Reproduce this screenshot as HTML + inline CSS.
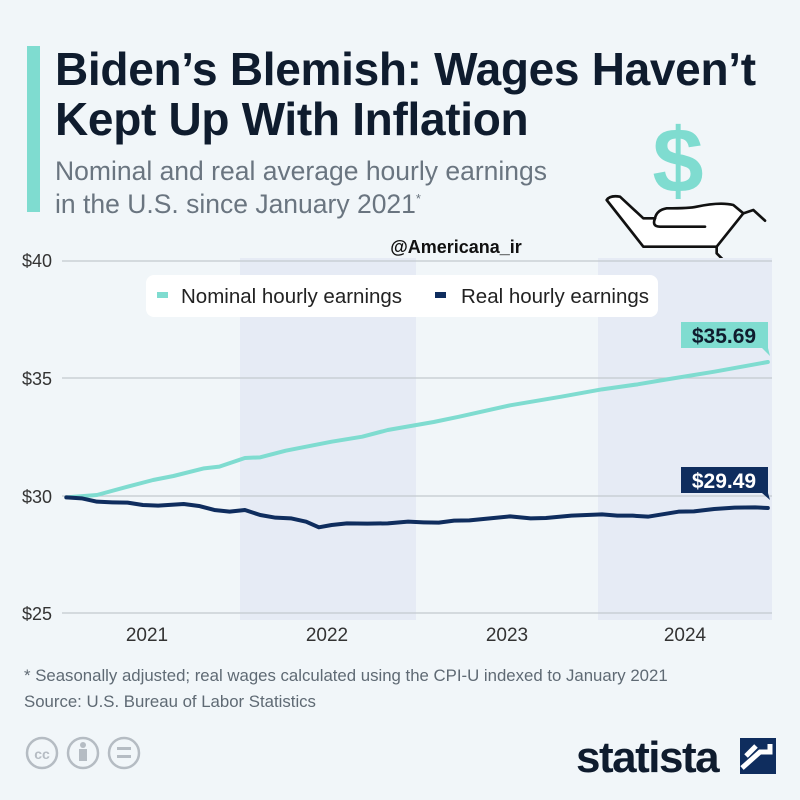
<!DOCTYPE html>
<html><head><meta charset="utf-8"><style>
body{margin:0;width:800px;height:800px;background:#f1f6f9;font-family:"Liberation Sans",sans-serif;position:relative;overflow:hidden}
.t{position:absolute;left:55px;font-weight:bold;font-size:46px;color:#0f1c2e;letter-spacing:-0.3px;line-height:50px}
.s{position:absolute;left:55px;font-size:26.5px;color:#6a7580;line-height:28px}
.f{position:absolute;left:24px;font-size:16.8px;color:#5f6a74}
</style></head><body>
<div style="position:absolute;left:27px;top:46px;width:13px;height:166px;background:#7fdcd0"></div>
<div class="t" style="top:44px">Biden’s Blemish: Wages Haven’t<br>Kept Up With Inflation</div>
<div class="s" style="top:157px">Nominal and real average hourly earnings<br>in the U.S. since January 2021<sup style="font-size:13px">*</sup></div>
<svg width="800" height="800" style="position:absolute;left:0;top:0">
<text x="678" y="192" font-size="92" font-weight="bold" fill="#7fdcd0" text-anchor="middle" font-family="Liberation Sans">$</text>
<g transform="translate(580,100) scale(0.33333)" fill="#fff" stroke="#111" stroke-width="8" stroke-linejoin="round" stroke-linecap="round">
<path d="M80,300 Q90,285 120,290 L190,355 L225,355 Q230,330 260,325 Q330,325 350,320 Q420,305 460,315 L490,340 L410,440 L190,440 Z"/>
<path d="M225,355 Q215,380 240,380 L375,380 M490,340 L520,330 L555,362 M410,440 L410,460 L440,490" fill="none"/>
</g>
<rect x="240" y="258" width="176" height="362" fill="#e6ebf5"/>
<rect x="598" y="258" width="174" height="362" fill="#e6ebf5"/>
<g stroke="#c4c9cf" stroke-width="1.2"><line x1="62" y1="261" x2="772" y2="261"/><line x1="62" y1="378" x2="772" y2="378"/><line x1="62" y1="496" x2="772" y2="496"/><line x1="62" y1="613" x2="772" y2="613"/></g>
<g font-size="18" fill="#333" font-family="Liberation Sans"><text x="22" y="267">$40</text><text x="22" y="385">$35</text><text x="22" y="503">$30</text><text x="22" y="620">$25</text>
<text x="147" y="641" text-anchor="middle" font-size="19">2021</text><text x="327" y="641" text-anchor="middle" font-size="19">2022</text><text x="507" y="641" text-anchor="middle" font-size="19">2023</text><text x="685" y="641" text-anchor="middle" font-size="19">2024</text></g>
<text x="456" y="253" font-size="18" font-weight="bold" text-anchor="middle" fill="#111" font-family="Liberation Sans">@Americana_ir</text>
<rect x="146" y="275" width="512" height="42" rx="8" fill="#fff"/>
<rect x="157" y="292" width="11" height="6" fill="#7fdcd0"/>
<rect x="435" y="292" width="11" height="6" fill="#0f2d5e"/>
<g font-size="20.5" fill="#222" font-family="Liberation Sans"><text x="181" y="303">Nominal hourly earnings</text><text x="461" y="303">Real hourly earnings</text></g>
<g transform="translate(0,250) scale(0.5102,0.33333)" fill="none" stroke-linejoin="round" stroke-linecap="round">
<polyline vector-effect="non-scaling-stroke" stroke-width="4" stroke="#7fdcd0" points="130,742 190,735 250,710 300,690 340,678 400,655 430,650 480,624 510,622 560,602 650,575 710,560 760,540 850,516 900,500 1000,466 1100,440 1180,418 1250,403 1300,390 1400,365 1505,336"/>
<polyline vector-effect="non-scaling-stroke" stroke-width="4" stroke="#0f2d5e" points="130,742 160,745 190,755 220,757 250,758 280,765 310,767 360,762 390,768 420,780 450,785 480,780 510,795 540,803 570,805 600,815 625,832 650,825 680,820 720,821 760,820 800,815 830,817 860,818 890,812 920,811 960,805 1000,799 1040,805 1070,804 1120,797 1180,793 1210,797 1240,797 1270,800 1330,785 1360,784 1400,777 1440,773 1480,772 1505,774"/>
</g>
<path d="M681 322 H768 V348 L770 356 L762 348 H681 Z" fill="#7fdcd0"/>
<text x="724" y="343" font-size="21" font-weight="bold" text-anchor="middle" fill="#0f1c2e" font-family="Liberation Sans">$35.69</text>
<path d="M681 467 H768 V493 L770 500 L762 493 H681 Z" fill="#0f2d5e"/>
<text x="724" y="488" font-size="21" font-weight="bold" text-anchor="middle" fill="#fff" font-family="Liberation Sans">$29.49</text>
<g fill="none" stroke="#b5bcc3" stroke-width="2.5"><circle cx="42" cy="753" r="15"/><circle cx="83" cy="753" r="15"/><circle cx="124" cy="753" r="15"/></g>
<text x="42" y="759" font-size="14" font-weight="bold" fill="#b5bcc3" text-anchor="middle" font-family="Liberation Sans">cc</text>
<circle cx="83" cy="745" r="3" fill="#b5bcc3"/><rect x="79" y="749" width="8" height="12" fill="#b5bcc3"/>
<rect x="117" y="747" width="14" height="3" fill="#b5bcc3"/><rect x="117" y="755" width="14" height="3" fill="#b5bcc3"/>
<text x="576" y="772" font-size="44" font-weight="bold" fill="#0f1c2e" font-family="Liberation Sans" letter-spacing="-1.5">statista</text>
<path d="M740 738 H776 V774 H740 Z" fill="#0f2d5e"/>
<path d="M742 768 L760 752 L770 752 L770 744 M746 756 L756 746" stroke="#fff" stroke-width="5" fill="none"/>
</svg>
<div class="f" style="top:666px">* Seasonally adjusted; real wages calculated using the CPI-U indexed to January 2021</div>
<div class="f" style="top:692px">Source: U.S. Bureau of Labor Statistics</div>
</body></html>
